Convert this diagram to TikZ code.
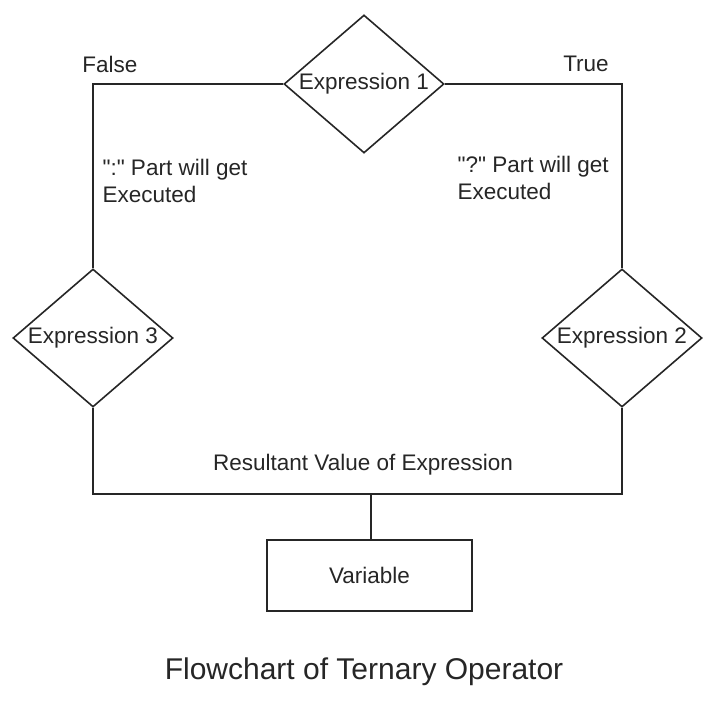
\documentclass[tikz,border=0pt]{standalone}
\usepackage{fontspec}
\setmainfont{Liberation Sans}
\usetikzlibrary{shapes.geometric}
\begin{document}
\begin{tikzpicture}[x=1pt,y=-1pt,
  dia/.style={diamond,draw=black!85,line width=1.6pt,minimum width=160pt,minimum height=138pt,inner sep=0pt},
  ln/.style={draw=black!85,line width=1.6pt},
  lbl/.style={font=\fontsize{22.5}{27}\selectfont,text=black!85}]
\useasboundingbox (0,0) rectangle (720,702);
\node[dia] (e1) at (364,84) {};
\node[dia] (e3) at (93,338) {};
\node[dia] (e2) at (622,338) {};
\node[lbl] (t1) at (e1) {Expression 1};
\node[lbl] (t3) at (e3) {Expression 3};
\node[lbl] (t2) at (e2) {Expression 2};
\node[draw=black!85,line width=1.6pt,minimum width=205pt,minimum height=71pt,lbl] (v) at (369.5,575.5) {Variable};
\coordinate (j) at (371,494);
\draw[ln] (e1.west) -- (93,84) -- (e3.north);
\draw[ln] (e1.east) -- (622,84) -- (e2.north);
\draw[ln] (e3.south) -- (93,494) -- (622,494) -- (e2.south);
\draw[ln] (j) -- (v.north -| j);
\node[lbl] (f) at (110,64) {False};
\node[lbl] (t) at (586,64) {True};
\node[lbl,anchor=west,align=left] (c) at (99,181) {\textquotedbl:\textquotedbl\ Part will get\\Executed};
\node[lbl,anchor=west,align=left] (q) at (454,178) {\textquotedbl?\textquotedbl\ Part will get\\Executed};
\node[lbl] (r) at (363,465) {Resultant Value of Expression};
\node[font=\fontsize{30}{34}\selectfont,text=black!85] (ttl) at (364,672) {Flowchart of Ternary Operator};
\end{tikzpicture}
\end{document}
